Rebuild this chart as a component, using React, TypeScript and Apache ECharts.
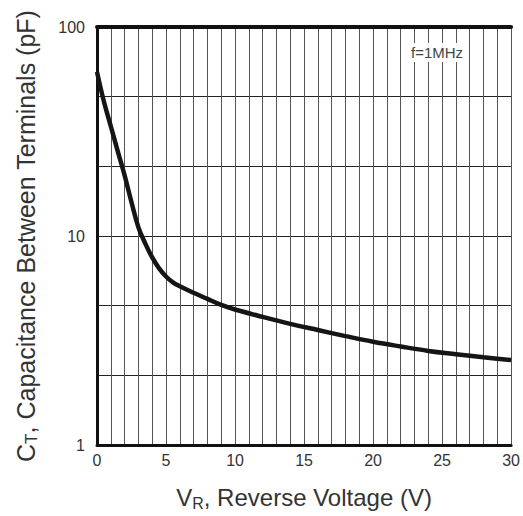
import React, { useEffect, useRef } from "react";
import * as echarts from "echarts";

const voltage = [0, 0.5, 1, 1.5, 2, 2.5, 3, 3.5, 4, 4.5, 5, 5.5, 6, 7, 8, 9, 10, 12, 14, 16, 18, 20, 22, 24, 26, 28, 30];
const capacitance = [61, 44, 33.5, 25.5, 19.5, 14.5, 11.0, 9.2, 7.9, 7.0, 6.4, 6.0, 5.75, 5.35, 5.0, 4.68, 4.45, 4.1, 3.8, 3.55, 3.32, 3.12, 2.96, 2.82, 2.72, 2.63, 2.55];
const xTickLabels = [0, 5, 10, 15, 20, 25, 30];
const yTickLabels = [1, 10, 100];
const noteText = "f=1MHz";

const FONT = "'Liberation Sans', Arial, sans-serif";

export default function App() {
  const ref = useRef<HTMLDivElement>(null);
  useEffect(() => {
    document.body.style.margin = "0";
    document.body.style.overflow = "hidden";
    if (!ref.current) return;
    const chart = echarts.init(ref.current, null, { renderer: "svg" });
    const data = voltage.map((v, i) => [v, capacitance[i]]);
    const rich = (big: number, small: number) => ({
      m: { fontSize: big, color: "#333", fontFamily: FONT, verticalAlign: "bottom", lineHeight: big + 2 },
      s: { fontSize: small, color: "#333", fontFamily: FONT, verticalAlign: "bottom", lineHeight: small, padding: [0, 0, -2, 0] },
    });
    chart.setOption({
      animation: false,
      backgroundColor: "#ffffff",
      textStyle: { fontFamily: FONT },
      grid: { left: 97, right: 10, top: 27, bottom: 69, containLabel: false },
      xAxis: [
        {
          type: "value",
          min: 0,
          max: 30,
          interval: 1,
          position: "bottom",
          axisLine: { show: true, lineStyle: { color: "#111", width: 3 } },
          axisTick: { show: false },
          axisLabel: {
            customValues: xTickLabels,
            color: "#333",
            fontSize: 16,
            margin: 7,
            fontFamily: FONT,
          },
          splitLine: { show: true, lineStyle: { color: "#555", width: 1 } },
          name: "{m|V}{s|R}{m|, Reverse Voltage (V)}",
          nameLocation: "middle",
          nameGap: 38,
          nameTextStyle: { rich: rich(24, 16) },
        },
        {
          type: "value",
          min: 0,
          max: 30,
          position: "top",
          axisLine: { show: true, lineStyle: { color: "#111", width: 4 } },
          axisTick: { show: false },
          axisLabel: { show: false },
          splitLine: { show: false },
        },
      ],
      yAxis: [
        {
          type: "log",
          logBase: 10,
          min: 1,
          max: 100,
          position: "left",
          axisLine: { show: true, lineStyle: { color: "#111", width: 3 } },
          axisTick: { show: false },
          axisLabel: {
            customValues: yTickLabels,
            color: "#333",
            fontSize: 16,
            margin: 12,
            fontFamily: FONT,
          },
          splitLine: { show: false },
          name: "{m|C}{s|T}{m|, Capacitance Between Terminals (pF)}",
          nameLocation: "middle",
          nameGap: 59,
          nameTextStyle: { rich: rich(25, 17) },
        },
        {
          type: "value",
          min: 0,
          max: 6,
          interval: 1,
          position: "right",
          axisLine: { show: true, lineStyle: { color: "#111", width: 3 } },
          axisTick: { show: false },
          axisLabel: { show: false },
          splitLine: { show: true, lineStyle: { color: "#222", width: 1.2 } },
        },
      ],
      graphic: [
        {
          type: "text",
          left: 408,
          top: 43,
          z: 10,
          style: {
            text: noteText,
            fontSize: 15,
            fill: "#444",
            fontFamily: FONT,
            backgroundColor: "#ffffff",
            padding: [2, 3],
          },
        },
      ],
      series: [
        {
          type: "line",
          xAxisIndex: 0,
          yAxisIndex: 0,
          data,
          smooth: 0.4,
          showSymbol: false,
          lineStyle: { color: "#151515", width: 4.5 },
          z: 5,
        },
      ],
    });
    return () => chart.dispose();
  }, []);
  return <div ref={ref} style={{ width: 523, height: 516 }} />;
}
